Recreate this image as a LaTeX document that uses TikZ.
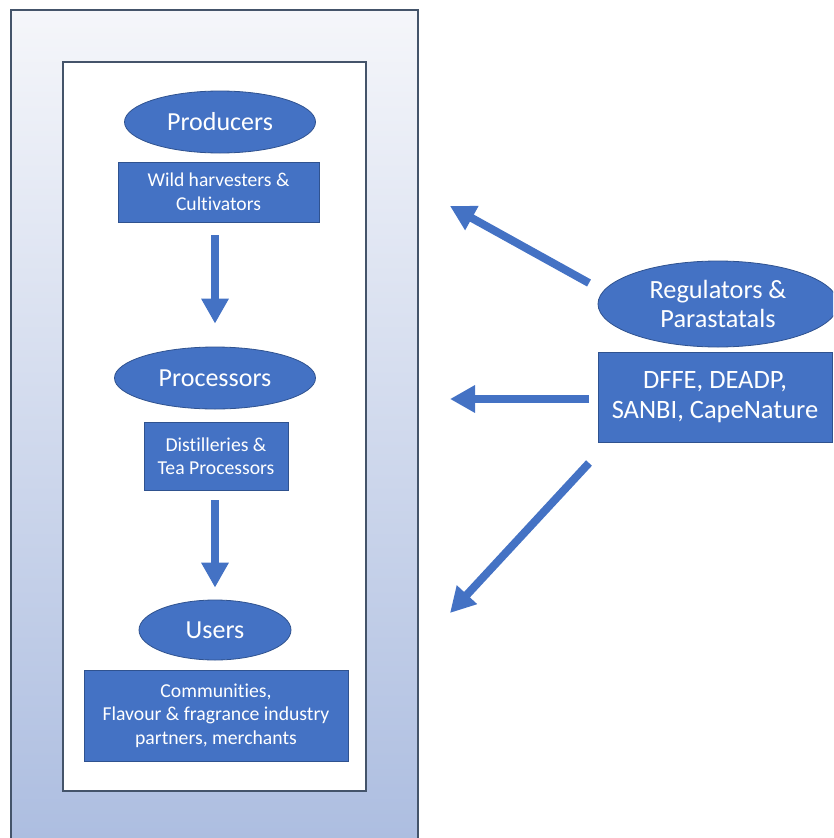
\documentclass[tikz,border=0pt]{standalone}
\usepackage{fontspec}
\setmainfont[Ligatures=NoCommon]{Carlito}
\usetikzlibrary{shapes.geometric,arrows.meta}
\definecolor{boxblue}{HTML}{4472C4}
\definecolor{edgeblue}{HTML}{2F528F}
\definecolor{frame}{HTML}{44546A}
\definecolor{gtop}{RGB}{245,246,250}
\definecolor{gbot}{RGB}{172,189,224}
\tikzset{
  ell/.style={ellipse, fill=boxblue, draw=edgeblue, line width=0.8pt, inner sep=0pt, text=white, align=center},
  bluebox/.style={rectangle, fill=boxblue, draw=edgeblue, line width=0.8pt, inner sep=0pt, text=white, align=center},
  bigarrow/.style={draw=boxblue, line width=8pt, -{Triangle[length=25pt,width=26pt]}},
}
\begin{document}
\begin{tikzpicture}[x=1pt,y=-1pt]
\useasboundingbox (0,0) rectangle (833,838);
\clip (0,0) rectangle (833,838);
% outer gradient frame
\shade[top color=gtop, bottom color=gbot] (11,10) rectangle (418,850);
\draw[frame, line width=1.2pt] (11,850) -- (11,10) -- (418,10) -- (418,850);
% inner white box
\draw[frame, line width=1.2pt, fill=white] (63,62) rectangle (366,791);

% left column
\node[ell, minimum width=191pt, minimum height=62pt, font=\fontsize{26}{29}\selectfont] (prod) at (220,122) {Producers};
\node[bluebox, minimum width=201pt, minimum height=60pt, font=\fontsize{19.6}{23.5}\selectfont] (wild) at (218.5,192) {Wild harvesters \&\\Cultivators};
\node[ell, minimum width=201pt, minimum height=62pt, font=\fontsize{26}{29}\selectfont] (proc) at (215,378) {Processors};
\node[bluebox, minimum width=144pt, minimum height=68pt, font=\fontsize{19.7}{23.5}\selectfont] (dist) at (216,456) {Distilleries \&\\Tea Processors};
\node[ell, minimum width=152pt, minimum height=60pt, font=\fontsize{26}{29}\selectfont] (users) at (215,630) {Users};
\node[bluebox, minimum width=264pt, minimum height=91pt, font=\fontsize{19.7}{23.5}\selectfont] (ubox) at (216,715.5) {Communities,\\Flavour \& fragrance industry\\partners, merchants};

% right column
\node[ell, minimum width=240pt, minimum height=86pt, font=\fontsize{26.3}{29.5}\selectfont] (reg) at (718,304) {Regulators \&\\Parastatals};
\node[bluebox, minimum width=234pt, minimum height=90pt, font=\fontsize{26.5}{30.5}\selectfont] (dffe) at (715,397) {DFFE, DEADP,\\SANBI, CapeNature};

% vertical arrows
\draw[bigarrow, shorten <=13pt, shorten >=23pt] (wild.south -| proc.north) -- (proc.north);
\draw[bigarrow, shorten <=10pt, shorten >=12pt] (dist.south -| users.north) -- (users.north);

% arrows from regulators
\coordinate (t1) at (450,206);
\coordinate (t2) at (450,399);
\coordinate (t3) at (450,613);
\coordinate (s1) at (589,283);
\coordinate (s2) at (589,399);
\coordinate (s3) at (589,463);
\draw[bigarrow] (s1) -- (t1);
\draw[bigarrow] (s2) -- (t2);
\draw[bigarrow] (s3) -- (t3);
\end{tikzpicture}
\end{document}
